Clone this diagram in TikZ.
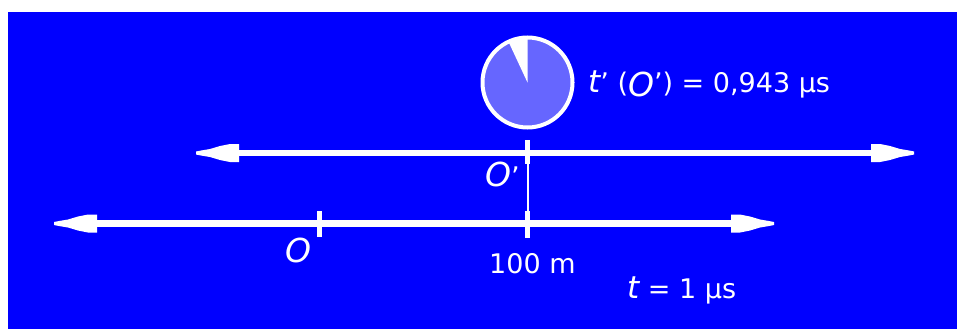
\documentclass[tikz,border=0pt]{standalone}
\usepackage{fontspec}
\setmainfont{DejaVu Sans}
\definecolor{bgblue}{HTML}{0000FF}
\definecolor{clockfill}{HTML}{6666FF}
\newcommand{\bigO}{{\fontsize{33}{33}\selectfont\itshape O}}
\newcommand{\bigt}{{\fontsize{31}{31}\selectfont\itshape t}}
\begin{document}
\begin{tikzpicture}[x=1pt,y=-1pt,
  axis/.style={white, line width=6.5pt},
  tickmark/.style={white, line width=5pt},
  thinline/.style={white, line width=2pt},
  lbl/.style={text=white, inner sep=0pt, anchor=base west, font=\fontsize{27}{27}\selectfont},
  ahead/.pic={\fill[white] (-1,-9)--(8,-9)--(18,-7)--(28,-4)--(37,-2.5)--(42,-1.5)--(42,1.5)--(37,2.5)--(28,4)--(18,7)--(8,9)--(-1,9)--cycle;}
]
\path[use as bounding box] (0,0) rectangle (957,329);
\fill[white] (0,0) rectangle (957,329);
\fill[bgblue] (8,12) rectangle (957,329);

% axes
\coordinate (tL) at (238,153);
\coordinate (tR) at (872,153);
\coordinate (bL) at (96,223.5);
\coordinate (bR) at (732,223.5);
\draw[axis] (tL) -- (tR);
\draw[axis] (bL) -- (bR);
\pic at (tR) {ahead};
\pic[rotate=180] at (tL) {ahead};
\pic at (bR) {ahead};
\pic[rotate=180] at (bL) {ahead};

% ticks
\coordinate (Oa) at (319,211);
\coordinate (Ob) at (319,237);
\draw[tickmark] (Oa) -- (Ob);
\coordinate (Opa) at (527.5,140);
\coordinate (Opb) at (527.5,164);
\coordinate (Ma) at (527.5,211);
\coordinate (Mb) at (527.5,238);
\draw[tickmark] (Opa) -- (Opb);
\draw[thinline] (Opb) -- (Ma);
\draw[tickmark] (Ma) -- (Mb);

% clock
\node[circle, draw=white, line width=4pt, fill=clockfill, minimum size=90pt, inner sep=0pt] (clock) at (527.5,82.5) {};
\fill[white] (clock.center) -- ++(-90:44) arc[start angle=-90, end angle=-115, radius=44] -- cycle;

% labels
\node[lbl] (tprime) at (588,92) {\bigt' (\raisebox{-4.5pt}{\bigO}') = 0,943 µs};
\node[lbl] (Olbl) at (285,262) {\bigO};
\node[lbl] (Oplbl) at (485,186) {\bigO'};
\node[lbl] (hm) at (489,273) {100 m};
\node[lbl] (tlbl) at (627,298) {\bigt{} = 1 µs};
\end{tikzpicture}
\end{document}
